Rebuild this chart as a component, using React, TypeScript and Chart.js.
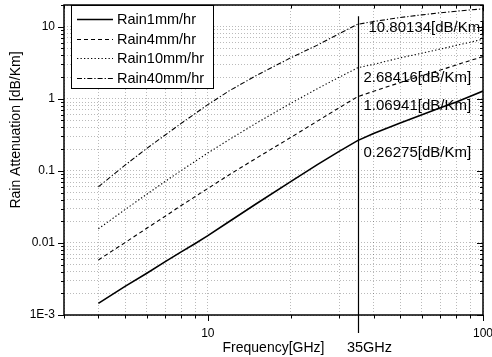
import React, { useEffect, useRef } from 'react';
import { Chart, registerables } from 'chart.js';

Chart.register(...registerables);

// ---------- data ----------
const freqGHz = [4, 5, 6, 7, 8, 9, 10, 12, 15, 20, 25, 30, 35, 40, 50, 60, 70, 80, 90, 100];
const rain1 = [0.00145, 0.0025, 0.0038, 0.0055, 0.0075, 0.0098, 0.0126, 0.02, 0.035, 0.071, 0.122, 0.186, 0.26275, 0.33, 0.46, 0.6, 0.75, 0.9, 1.08, 1.28];
const rain4 = [0.0058, 0.0101, 0.016, 0.0235, 0.033, 0.044, 0.057, 0.089, 0.15, 0.29, 0.49, 0.75, 1.06941, 1.27, 1.68, 2.1, 2.5, 2.95, 3.4, 3.85];
const rain10 = [0.0157, 0.029, 0.0474, 0.0714, 0.101, 0.136, 0.177, 0.274, 0.459, 0.864, 1.38, 1.99, 2.68416, 3.0, 3.7, 4.3, 4.9, 5.5, 6.1, 6.7];
const rain40 = [0.06, 0.12, 0.205, 0.315, 0.455, 0.625, 0.83, 1.3, 2.1, 3.7, 5.55, 8.0, 10.80134, 11.8, 13.4, 14.6, 15.6, 16.4, 17.1, 17.7];

const seriesLabels = ['Rain1mm/hr', 'Rain4mm/hr', 'Rain10mm/hr', 'Rain40mm/hr'];
const markerFreq = 35;
const markerText = '35GHz';
const markerLabels = ['10.80134[dB/Km]', '2.68416[dB/Km]', '1.06941[dB/Km]', '0.26275[dB/Km]'];
const xTitle = 'Frequency[GHz]';
const yTitle = 'Rain Attenuation [dB/Km]';
const xMin = 3;
const xMax = 100;
const yMin = 0.001;
const yMax = 20;
const yTickText: Record<string, string> = { '10': '10', '1': '1', '0.1': '0.1', '0.01': '0.01', '0.001': '1E-3' };
const xTickText: Record<string, string> = { '10': '10', '100': '100' };

// ---------- styling ----------
const FONT = '"Liberation Sans", Arial, Helvetica, sans-serif';
const seriesStyles = [
  { width: 1.6, dash: [] as number[] },
  { width: 1.1, dash: [4, 3] },
  { width: 1.1, dash: [1.3, 2.2] },
  { width: 1.1, dash: [5, 2, 1.3, 2] },
];

function logTicks(min: number, max: number) {
  const out: number[] = [];
  for (let e = -4; e <= 3; e++) {
    for (let s = 1; s <= 9; s++) {
      const v = parseFloat((s * Math.pow(10, e)).toPrecision(6));
      if (v >= min * 0.9999 && v <= max * 1.0001) out.push(v);
    }
  }
  return out;
}
function isPow10(v: number) {
  const l = Math.log10(v);
  return Math.abs(l - Math.round(l)) < 1e-6;
}

const decorPlugin = {
  id: 'decor',
  afterDatasetsDraw(chart: any) {
    const { ctx, chartArea: a, scales } = chart;
    const x = scales.x;
    const y = scales.y;
    const line = (x1: number, y1: number, x2: number, y2: number) => {
      ctx.beginPath();
      ctx.moveTo(x1, y1);
      ctx.lineTo(x2, y2);
      ctx.stroke();
    };
    ctx.save();
    ctx.strokeStyle = '#000';
    ctx.fillStyle = '#000';
    ctx.setLineDash([]);

    // tick marks
    ctx.lineWidth = 1;
    for (const t of y.ticks) {
      const py = Math.round(y.getPixelForValue(t.value)) + 0.5;
      const L = isPow10(t.value) ? 6 : 3;
      line(a.left - L, py, a.left, py);
      line(a.right, py, a.right - L, py);
    }
    for (const t of x.ticks) {
      const px = Math.round(x.getPixelForValue(t.value)) + 0.5;
      const L = isPow10(t.value) ? 6 : 3.5;
      line(px, a.bottom, px, a.bottom + L);
      line(px, a.top, px, a.top + L);
    }

    // vertical marker line at 35 GHz
    const mx = Math.round(x.getPixelForValue(markerFreq)) + 0.5;
    ctx.lineWidth = 1.2;
    line(mx, y.getPixelForValue(14), mx, a.bottom + 18);

    // marker annotations
    ctx.font = `15px ${FONT}`;
    ctx.textAlign = 'left';
    ctx.textBaseline = 'middle';
    const annY = [a.top + 23, a.top + 73, a.top + 101, a.top + 147.5];
    const annX = [mx + 10, mx + 5, mx + 5, mx + 5];
    markerLabels.forEach((s, i) => ctx.fillText(s, annX[i], annY[i]));

    // legend box
    const lx = a.left + 7;
    const ly = a.top;
    const lw = 142;
    const lh = 83;
    ctx.fillStyle = '#fff';
    ctx.fillRect(lx, ly, lw, lh);
    ctx.lineWidth = 1;
    ctx.strokeStyle = '#000';
    ctx.strokeRect(lx + 0.5, ly + 0.5, lw, lh);
    ctx.fillStyle = '#000';
    const rowY = [14, 33.5, 53, 72.5];
    seriesLabels.forEach((s, i) => {
      const ry = ly + rowY[i];
      ctx.lineWidth = seriesStyles[i].width;
      ctx.setLineDash(seriesStyles[i].dash);
      line(lx + 6, Math.round(ry) + 0.5, lx + 42, Math.round(ry) + 0.5);
      ctx.setLineDash([]);
      ctx.font = `14.5px ${FONT}`;
      ctx.textAlign = 'left';
      ctx.textBaseline = 'middle';
      ctx.fillText(s, lx + 46, ry + 1);
    });

    // frame
    ctx.lineWidth = 1.5;
    ctx.setLineDash([]);
    ctx.strokeRect(a.left, a.top, a.right - a.left, a.bottom - a.top);

    // axis titles
    ctx.font = `14px ${FONT}`;
    ctx.textAlign = 'center';
    ctx.textBaseline = 'middle';
    ctx.fillText(xTitle, (a.left + a.right) / 2, a.bottom + 33);
    ctx.font = `14.5px ${FONT}`;
    ctx.fillText(markerText, mx + 11, a.bottom + 33);
    ctx.font = `14px ${FONT}`;
    ctx.save();
    ctx.translate(16, a.top + 125);
    ctx.rotate(-Math.PI / 2);
    ctx.fillText(yTitle, 0, 0);
    ctx.restore();

    ctx.restore();
  },
};

export default function App() {
  const ref = useRef<HTMLCanvasElement>(null);
  useEffect(() => {
    if (!ref.current) return;
    const all = [rain1, rain4, rain10, rain40];
    const gridColor = 'rgba(0,0,0,0.27)';
    const chart = new Chart(ref.current, {
      type: 'line',
      data: {
        datasets: all.map((vals, i) => ({
          label: seriesLabels[i],
          data: freqGHz.map((f, j) => ({ x: f, y: vals[j] })),
          borderColor: '#000',
          backgroundColor: '#000',
          borderWidth: seriesStyles[i].width,
          borderDash: seriesStyles[i].dash,
          pointRadius: 0,
          fill: false,
          tension: 0,
        })),
      },
      options: {
        responsive: false,
        animation: false,
        events: [],
        layout: { padding: { top: 5, right: 9, left: 0, bottom: 0 } },
        plugins: { legend: { display: false }, tooltip: { enabled: false } },
        scales: {
          x: {
            type: 'logarithmic',
            min: xMin,
            max: xMax,
            afterBuildTicks: (s: any) => {
              s.ticks = logTicks(xMin, xMax).map((v) => ({ value: v, major: isPow10(v) }));
            },
            afterFit: (s: any) => {
              s.height = 42;
              s.paddingLeft = 0;
              s.paddingRight = 0;
            },
            grid: { color: gridColor, lineWidth: 1, drawTicks: false },
            border: { display: false, dash: [1, 2] },
            ticks: {
              autoSkip: false,
              maxRotation: 0,
              padding: 11,
              color: '#000',
              font: { family: FONT, size: 12 },
              callback: (v: any) => xTickText[String(v)] ?? '',
            },
          },
          y: {
            type: 'logarithmic',
            min: yMin,
            max: yMax,
            afterBuildTicks: (s: any) => {
              s.ticks = logTicks(yMin, yMax).map((v) => ({ value: v, major: isPow10(v) }));
            },
            afterFit: (s: any) => {
              s.width = 64;
              s.paddingTop = 0;
              s.paddingBottom = 0;
            },
            grid: { color: gridColor, lineWidth: 1, drawTicks: false },
            border: { display: false, dash: [1, 2] },
            ticks: {
              autoSkip: false,
              padding: 9,
              color: '#000',
              font: { family: FONT, size: 12 },
              callback: (v: any) => yTickText[String(v)] ?? '',
            },
          },
        },
      },
      plugins: [decorPlugin],
    } as any);
    return () => chart.destroy();
  }, []);
  return (
    <div style={{ position: 'absolute', left: 0, top: 0, width: 492, height: 357, background: '#fff' }}>
      <canvas ref={ref} width={492} height={357} style={{ display: 'block' }} />
    </div>
  );
}
